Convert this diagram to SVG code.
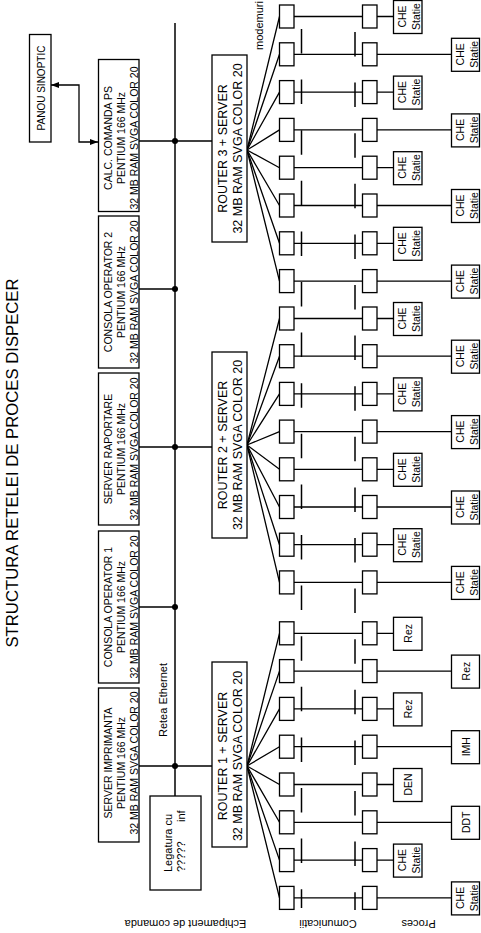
<svg xmlns="http://www.w3.org/2000/svg" width="481" height="933" viewBox="0 0 481 933">
<style>
.bx{fill:#fff;stroke:#000;stroke-width:1.3}
.ln{fill:none;stroke:#000;stroke-width:1.3}
.bus{fill:none;stroke:#000;stroke-width:1.5}
.dash{fill:none;stroke:#000;stroke-width:1.5;stroke-dasharray:24.5 26.1}
text{font-family:"Liberation Sans",Arial,sans-serif;fill:#000}
.c{font-size:10.5px;text-anchor:middle}
.r{font-size:12.5px;text-anchor:middle}
.p{font-size:10.5px;text-anchor:middle}
.s{font-size:11px}
</style>
<defs>
<marker id="ah" markerWidth="8" markerHeight="6" refX="8" refY="3" orient="auto-start-reverse" markerUnits="userSpaceOnUse"><path d="M0,0 L8,3 L0,6 z" fill="#000"/></marker>
</defs>
<rect width="481" height="933" fill="#fff"/>

<text id="title" transform="translate(18,463) rotate(-90)" style="font-size:16.7px;text-anchor:middle">STRUCTURA RETELEI DE PROCES DISPECER</text>
<text id="lbl-echip" class="s" transform="translate(185.5,920) rotate(180)" text-anchor="middle">Echipament de comanda</text>
<text id="lbl-com" class="s" transform="translate(328,920) rotate(180)" text-anchor="middle">Comunicatii</text>
<text id="lbl-proc" class="s" transform="translate(418.5,920) rotate(180)" text-anchor="middle">Proces</text>
<text id="lbl-eth" class="s" transform="translate(167,737) rotate(-90)">Retea Ethernet</text>
<text id="lbl-modem" class="s" transform="translate(263,50) rotate(-90)">modemuri</text>

<g id="connectors">
<path class="bus" d="M175,23 V796"/>
<path class="ln" d="M139,141 H212 M139,289 H175 M139,447 H212 M139,607 H175 M139,766 H212"/>
<circle cx="175" cy="141" r="3"/><circle cx="175" cy="289" r="3"/><circle cx="175" cy="447" r="3"/><circle cx="175" cy="607" r="3"/><circle cx="175" cy="766" r="3"/>
<polyline class="ln" points="51,85 79,85 79,142 98,142" marker-start="url(#ah)" marker-end="url(#ah)"/>
<path class="dash" d="M301.5,29 V908"/>
<path class="dash" d="M355,32 V910"/>
<path class="ln" d="M247,150 L279.5,16.5 M292,16.5 H362.5 M377,16.5 H393.5"/>
<path class="ln" d="M247,150 L279.5,54.3 M292,54.3 H362.5 M377,54.3 H451.5"/>
<path class="ln" d="M247,150 L279.5,92.1 M292,92.1 H362.5 M377,92.1 H393.5"/>
<path class="ln" d="M247,150 L279.5,129.9 M292,129.9 H362.5 M377,129.9 H451.5"/>
<path class="ln" d="M247,150 L279.5,167.7 M292,167.7 H362.5 M377,167.7 H393.5"/>
<path class="ln" d="M247,150 L279.5,205.5 M292,205.5 H362.5 M377,205.5 H451.5"/>
<path class="ln" d="M247,150 L279.5,243.3 M292,243.3 H362.5 M377,243.3 H393.5"/>
<path class="ln" d="M247,150 L279.5,281.1 M292,281.1 H362.5 M377,281.1 H451.5"/>
<path class="ln" d="M247,445 L279.5,318.5 M292,318.5 H362.5 M377,318.5 H393.5"/>
<path class="ln" d="M247,445 L279.5,356.2 M292,356.2 H362.5 M377,356.2 H451.5"/>
<path class="ln" d="M247,445 L279.5,393.9 M292,393.9 H362.5 M377,393.9 H393.5"/>
<path class="ln" d="M247,445 L279.5,431.6 M292,431.6 H362.5 M377,431.6 H451.5"/>
<path class="ln" d="M247,445 L279.5,469.3 M292,469.3 H362.5 M377,469.3 H393.5"/>
<path class="ln" d="M247,445 L279.5,507 M292,507 H362.5 M377,507 H451.5"/>
<path class="ln" d="M247,445 L279.5,544.7 M292,544.7 H362.5 M377,544.7 H393.5"/>
<path class="ln" d="M247,445 L279.5,582.4 M292,582.4 H362.5 M377,582.4 H451.5"/>
<path class="ln" d="M247,766 L279.5,633.3 M292,633.3 H362.5 M377,633.3 H393.5"/>
<path class="ln" d="M247,766 L279.5,671.1 M292,671.1 H362.5 M377,671.1 H451.5"/>
<path class="ln" d="M247,766 L279.5,708.9 M292,708.9 H362.5 M377,708.9 H393.5"/>
<path class="ln" d="M247,766 L279.5,746.7 M292,746.7 H362.5 M377,746.7 H451.5"/>
<path class="ln" d="M247,766 L279.5,784.5 M292,784.5 H362.5 M377,784.5 H393.5"/>
<path class="ln" d="M247,766 L279.5,822.3 M292,822.3 H362.5 M377,822.3 H451.5"/>
<path class="ln" d="M247,766 L279.5,860.1 M292,860.1 H362.5 M377,860.1 H393.5"/>
<path class="ln" d="M247,766 L279.5,897.9 M292,897.9 H362.5 M377,897.9 H451.5"/>
</g>

<g id="panou"><rect class="bx" x="29.5" y="34.5" width="21.5" height="107.5"/><text class="c" transform="translate(45,88) rotate(-90)" style="font-size:10px">PANOU SINOPTIC</text></g>

<g id="calc-ps"><rect class="bx" x="98.5" y="59.5" width="40.5" height="152"/>
<text class="c" transform="translate(112,138) rotate(-90)">CALC. COMANDA PS</text><text class="c" transform="translate(124.5,138) rotate(-90)">PENTIUM 166 MHz</text><text class="c" transform="translate(137.5,138) rotate(-90)">32 MB RAM SVGA COLOR 20</text></g>
<g id="consola2"><rect class="bx" x="98.5" y="216" width="40.5" height="152"/>
<text class="c" transform="translate(112,292) rotate(-90)">CONSOLA OPERATOR 2</text><text class="c" transform="translate(124.5,292) rotate(-90)">PENTIUM 166 MHz</text><text class="c" transform="translate(137.5,292) rotate(-90)">32 MB RAM SVGA COLOR 20</text></g>
<g id="raportare"><rect class="bx" x="98.5" y="373" width="40.5" height="152"/>
<text class="c" transform="translate(112,449) rotate(-90)">SERVER RAPORTARE</text><text class="c" transform="translate(124.5,449) rotate(-90)">PENTIUM 166 MHz</text><text class="c" transform="translate(137.5,449) rotate(-90)">32 MB RAM SVGA COLOR 20</text></g>
<g id="consola1"><rect class="bx" x="98.5" y="531" width="40.5" height="152"/>
<text class="c" transform="translate(112,607) rotate(-90)">CONSOLA OPERATOR 1</text><text class="c" transform="translate(124.5,607) rotate(-90)">PENTIUM 166 MHz</text><text class="c" transform="translate(137.5,607) rotate(-90)">32 MB RAM SVGA COLOR 20</text></g>
<g id="imprimanta"><rect class="bx" x="98.5" y="688" width="40.5" height="154"/>
<text class="c" transform="translate(112,763) rotate(-90)">SERVER IMPRIMANTA</text><text class="c" transform="translate(124.5,763) rotate(-90)">PENTIUM 166 MHz</text><text class="c" transform="translate(137.5,763) rotate(-90)">32 MB RAM SVGA COLOR 20</text></g>

<g id="legatura"><rect class="bx" x="150" y="796" width="51" height="94"/>
<text class="s" transform="translate(172,872) rotate(-90)">Legatura cu</text><text class="s" transform="translate(185,872) rotate(-90)">?????<tspan x="50">inf</tspan></text></g>

<g id="router3"><rect class="bx" x="212" y="55" width="35" height="187"/>
<text class="r" transform="translate(227,148.5) rotate(-90)">ROUTER 3 + SERVER</text><text class="r" transform="translate(242,148.5) rotate(-90)">32 MB RAM SVGA COLOR 20</text></g>
<g id="router2"><rect class="bx" x="212" y="352" width="35" height="186"/>
<text class="r" transform="translate(227,445) rotate(-90)">ROUTER 2 + SERVER</text><text class="r" transform="translate(242,445) rotate(-90)">32 MB RAM SVGA COLOR 20</text></g>
<g id="router1"><rect class="bx" x="212" y="662" width="35" height="185"/>
<text class="r" transform="translate(227,756) rotate(-90)">ROUTER 1 + SERVER</text><text class="r" transform="translate(242,756) rotate(-90)">32 MB RAM SVGA COLOR 20</text></g>

<g id="modems-left">
<rect class="bx" x="279.5" y="5" width="14.5" height="23"/>
<rect class="bx" x="279.5" y="42.8" width="14.5" height="23"/>
<rect class="bx" x="279.5" y="80.6" width="14.5" height="23"/>
<rect class="bx" x="279.5" y="118.4" width="14.5" height="23"/>
<rect class="bx" x="279.5" y="156.2" width="14.5" height="23"/>
<rect class="bx" x="279.5" y="194" width="14.5" height="23"/>
<rect class="bx" x="279.5" y="231.8" width="14.5" height="23"/>
<rect class="bx" x="279.5" y="269.6" width="14.5" height="23"/>
<rect class="bx" x="279.5" y="307" width="14.5" height="23"/>
<rect class="bx" x="279.5" y="344.7" width="14.5" height="23"/>
<rect class="bx" x="279.5" y="382.4" width="14.5" height="23"/>
<rect class="bx" x="279.5" y="420.1" width="14.5" height="23"/>
<rect class="bx" x="279.5" y="457.8" width="14.5" height="23"/>
<rect class="bx" x="279.5" y="495.5" width="14.5" height="23"/>
<rect class="bx" x="279.5" y="533.2" width="14.5" height="23"/>
<rect class="bx" x="279.5" y="570.9" width="14.5" height="23"/>
<rect class="bx" x="279.5" y="621.8" width="14.5" height="23"/>
<rect class="bx" x="279.5" y="659.6" width="14.5" height="23"/>
<rect class="bx" x="279.5" y="697.4" width="14.5" height="23"/>
<rect class="bx" x="279.5" y="735.2" width="14.5" height="23"/>
<rect class="bx" x="279.5" y="773" width="14.5" height="23"/>
<rect class="bx" x="279.5" y="810.8" width="14.5" height="23"/>
<rect class="bx" x="279.5" y="848.6" width="14.5" height="23"/>
<rect class="bx" x="279.5" y="886.4" width="14.5" height="23"/>
</g>
<g id="modems-right">
<rect class="bx" x="362.5" y="5" width="14.5" height="23"/>
<rect class="bx" x="362.5" y="42.8" width="14.5" height="23"/>
<rect class="bx" x="362.5" y="80.6" width="14.5" height="23"/>
<rect class="bx" x="362.5" y="118.4" width="14.5" height="23"/>
<rect class="bx" x="362.5" y="156.2" width="14.5" height="23"/>
<rect class="bx" x="362.5" y="194" width="14.5" height="23"/>
<rect class="bx" x="362.5" y="231.8" width="14.5" height="23"/>
<rect class="bx" x="362.5" y="269.6" width="14.5" height="23"/>
<rect class="bx" x="362.5" y="307" width="14.5" height="23"/>
<rect class="bx" x="362.5" y="344.7" width="14.5" height="23"/>
<rect class="bx" x="362.5" y="382.4" width="14.5" height="23"/>
<rect class="bx" x="362.5" y="420.1" width="14.5" height="23"/>
<rect class="bx" x="362.5" y="457.8" width="14.5" height="23"/>
<rect class="bx" x="362.5" y="495.5" width="14.5" height="23"/>
<rect class="bx" x="362.5" y="533.2" width="14.5" height="23"/>
<rect class="bx" x="362.5" y="570.9" width="14.5" height="23"/>
<rect class="bx" x="362.5" y="621.8" width="14.5" height="23"/>
<rect class="bx" x="362.5" y="659.6" width="14.5" height="23"/>
<rect class="bx" x="362.5" y="697.4" width="14.5" height="23"/>
<rect class="bx" x="362.5" y="735.2" width="14.5" height="23"/>
<rect class="bx" x="362.5" y="773" width="14.5" height="23"/>
<rect class="bx" x="362.5" y="810.8" width="14.5" height="23"/>
<rect class="bx" x="362.5" y="848.6" width="14.5" height="23"/>
<rect class="bx" x="362.5" y="886.4" width="14.5" height="23"/>
</g>

<g id="p1"><rect class="bx" x="393.5" y="0.5" width="28.5" height="33"/><text class="p" transform="translate(405.5,16.5) rotate(-90)">CHE</text><text class="p" transform="translate(419.5,16.5) rotate(-90)">Statie</text></g>
<g id="p2"><rect class="bx" x="451.5" y="38.3" width="28" height="33"/><text class="p" transform="translate(463.5,54.3) rotate(-90)">CHE</text><text class="p" transform="translate(477.5,54.3) rotate(-90)">Statie</text></g>
<g id="p3"><rect class="bx" x="393.5" y="76.1" width="28.5" height="33"/><text class="p" transform="translate(405.5,92.1) rotate(-90)">CHE</text><text class="p" transform="translate(419.5,92.1) rotate(-90)">Statie</text></g>
<g id="p4"><rect class="bx" x="451.5" y="113.9" width="28" height="33"/><text class="p" transform="translate(463.5,129.9) rotate(-90)">CHE</text><text class="p" transform="translate(477.5,129.9) rotate(-90)">Statie</text></g>
<g id="p5"><rect class="bx" x="393.5" y="151.7" width="28.5" height="33"/><text class="p" transform="translate(405.5,167.7) rotate(-90)">CHE</text><text class="p" transform="translate(419.5,167.7) rotate(-90)">Statie</text></g>
<g id="p6"><rect class="bx" x="451.5" y="189.5" width="28" height="33"/><text class="p" transform="translate(463.5,205.5) rotate(-90)">CHE</text><text class="p" transform="translate(477.5,205.5) rotate(-90)">Statie</text></g>
<g id="p7"><rect class="bx" x="393.5" y="227.3" width="28.5" height="33"/><text class="p" transform="translate(405.5,243.3) rotate(-90)">CHE</text><text class="p" transform="translate(419.5,243.3) rotate(-90)">Statie</text></g>
<g id="p8"><rect class="bx" x="451.5" y="265.1" width="28" height="33"/><text class="p" transform="translate(463.5,281.1) rotate(-90)">CHE</text><text class="p" transform="translate(477.5,281.1) rotate(-90)">Statie</text></g>
<g id="p9"><rect class="bx" x="393.5" y="302.5" width="28.5" height="33"/><text class="p" transform="translate(405.5,318.5) rotate(-90)">CHE</text><text class="p" transform="translate(419.5,318.5) rotate(-90)">Statie</text></g>
<g id="p10"><rect class="bx" x="451.5" y="340.2" width="28" height="33"/><text class="p" transform="translate(463.5,356.2) rotate(-90)">CHE</text><text class="p" transform="translate(477.5,356.2) rotate(-90)">Statie</text></g>
<g id="p11"><rect class="bx" x="393.5" y="377.9" width="28.5" height="33"/><text class="p" transform="translate(405.5,393.9) rotate(-90)">CHE</text><text class="p" transform="translate(419.5,393.9) rotate(-90)">Statie</text></g>
<g id="p12"><rect class="bx" x="451.5" y="415.6" width="28" height="33"/><text class="p" transform="translate(463.5,431.6) rotate(-90)">CHE</text><text class="p" transform="translate(477.5,431.6) rotate(-90)">Statie</text></g>
<g id="p13"><rect class="bx" x="393.5" y="453.3" width="28.5" height="33"/><text class="p" transform="translate(405.5,469.3) rotate(-90)">CHE</text><text class="p" transform="translate(419.5,469.3) rotate(-90)">Statie</text></g>
<g id="p14"><rect class="bx" x="451.5" y="491" width="28" height="33"/><text class="p" transform="translate(463.5,507) rotate(-90)">CHE</text><text class="p" transform="translate(477.5,507) rotate(-90)">Statie</text></g>
<g id="p15"><rect class="bx" x="393.5" y="528.7" width="28.5" height="33"/><text class="p" transform="translate(405.5,544.7) rotate(-90)">CHE</text><text class="p" transform="translate(419.5,544.7) rotate(-90)">Statie</text></g>
<g id="p16"><rect class="bx" x="451.5" y="566.4" width="28" height="33"/><text class="p" transform="translate(463.5,582.4) rotate(-90)">CHE</text><text class="p" transform="translate(477.5,582.4) rotate(-90)">Statie</text></g>
<g id="p17"><rect class="bx" x="393.5" y="617.3" width="28.5" height="33"/><text class="p" transform="translate(412,633.3) rotate(-90)">Rez</text></g>
<g id="p18"><rect class="bx" x="451.5" y="655.1" width="28" height="33"/><text class="p" transform="translate(469.5,671.1) rotate(-90)">Rez</text></g>
<g id="p19"><rect class="bx" x="393.5" y="692.9" width="28.5" height="33"/><text class="p" transform="translate(412,708.9) rotate(-90)">Rez</text></g>
<g id="p20"><rect class="bx" x="451.5" y="730.7" width="28" height="33"/><text class="p" transform="translate(469.5,746.7) rotate(-90)">IMH</text></g>
<g id="p21"><rect class="bx" x="393.5" y="768.5" width="28.5" height="33"/><text class="p" transform="translate(412,784.5) rotate(-90)">DEN</text></g>
<g id="p22"><rect class="bx" x="451.5" y="806.3" width="28" height="33"/><text class="p" transform="translate(469.5,822.3) rotate(-90)">DDT</text></g>
<g id="p23"><rect class="bx" x="393.5" y="844.1" width="28.5" height="33"/><text class="p" transform="translate(405.5,860.1) rotate(-90)">CHE</text><text class="p" transform="translate(419.5,860.1) rotate(-90)">Statie</text></g>
<g id="p24"><rect class="bx" x="451.5" y="881.9" width="28" height="33"/><text class="p" transform="translate(463.5,897.9) rotate(-90)">CHE</text><text class="p" transform="translate(477.5,897.9) rotate(-90)">Statie</text></g>
</svg>
